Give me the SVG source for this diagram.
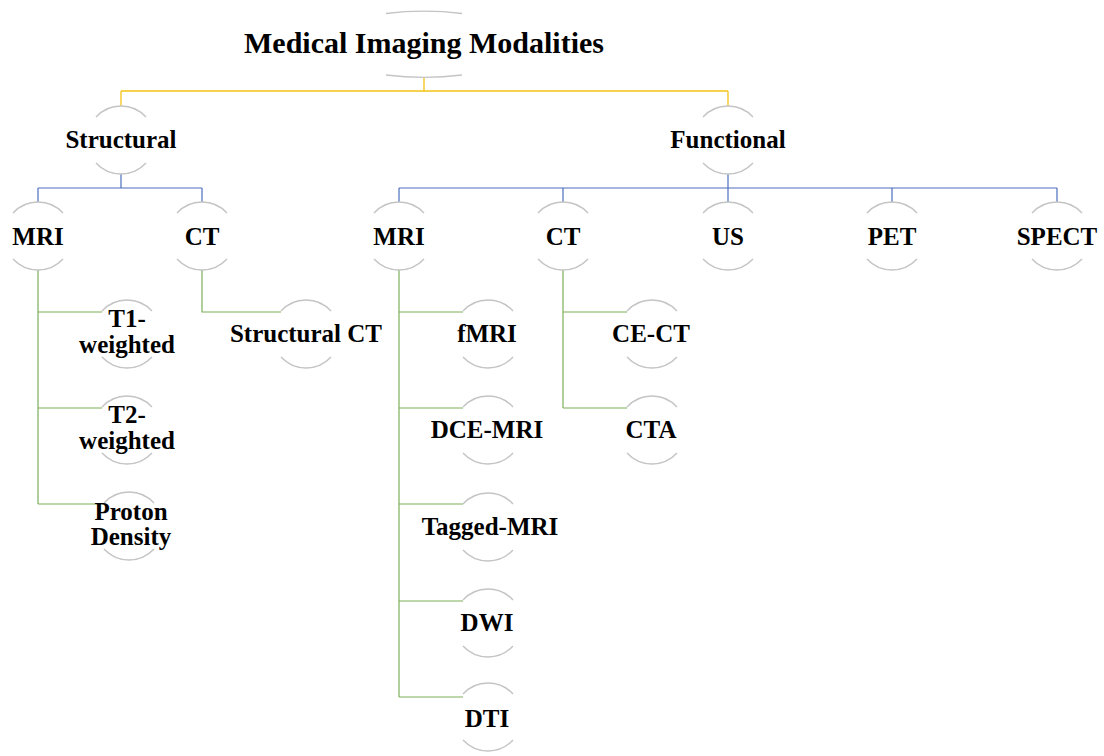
<svg xmlns="http://www.w3.org/2000/svg" xmlns:xlink="http://www.w3.org/1999/xlink" width="1104" height="756" viewBox="0 0 1104 756">
<style>
  .lbl { font-family: "Liberation Serif", "Times New Roman", serif; font-weight: bold; font-size: 25px; fill: #000; text-anchor: middle; }
  .title { font-size: 30px; }
  .ring { fill: none; stroke: #c4c4c4; stroke-width: 1.4; }
  .y { fill: none; stroke: #F5C316; stroke-width: 1.3; }
  .b { fill: none; stroke: #4A6FBF; stroke-width: 1.2; }
  .g { fill: none; stroke: #7DAF57; stroke-width: 1.2; }
</style>
<defs>
  <path id="ring" d="M-25,-23 A34,34 0 0 1 25,-23 M-25,23 A34,34 0 0 0 25,23"/>
</defs>
<rect width="1104" height="756" fill="#fff"/>

<g id="connectors">
  <path class="y" d="M424,77 V91 M121,91 H728 M121,91 V106 M728,91 V106"/>
  <path class="b" d="M121,174 V188 M38,188 H202 M38,188 V202 M202,188 V202"/>
  <path class="b" d="M728,174 V202 M399,188 H1057 M399,188 V202 M563,188 V202 M892,188 V202 M1057,188 V202"/>
  <path class="g" d="M38,270 V504 M38,312 H102 M38,408 H102 M38,504 H104"/>
  <path class="g" d="M202,270 V312 H281"/>
  <path class="g" d="M399,270 V697 M399,312 H463 M399,408 H463 M399,504 H463 M399,601 H463 M399,697 H463"/>
  <path class="g" d="M563,270 V408 M563,312 H627 M563,408 H627"/>
</g>

<g id="root">
  <path class="ring" d="M386,13.5 A100,30 0 0 1 462,13.5 M386,75 A100,30 0 0 0 462,75"/>
  <text class="lbl title" x="424" y="53">Medical Imaging Modalities</text>
</g>

<g id="structural">
  <use href="#ring" class="ring" x="121" y="140"/>
  <text class="lbl" x="121" y="148">Structural</text>
</g>
<g id="functional">
  <use href="#ring" class="ring" x="728" y="140"/>
  <text class="lbl" x="728" y="148">Functional</text>
</g>

<g id="s-mri">
  <use href="#ring" class="ring" x="38" y="236"/>
  <text class="lbl" x="38" y="245">MRI</text>
</g>
<g id="s-ct">
  <use href="#ring" class="ring" x="202" y="236"/>
  <text class="lbl" x="202" y="245">CT</text>
</g>
<g id="f-mri">
  <use href="#ring" class="ring" x="399" y="236"/>
  <text class="lbl" x="399" y="245">MRI</text>
</g>
<g id="f-ct">
  <use href="#ring" class="ring" x="563" y="236"/>
  <text class="lbl" x="563" y="245">CT</text>
</g>
<g id="f-us">
  <use href="#ring" class="ring" x="728" y="236"/>
  <text class="lbl" x="728" y="245">US</text>
</g>
<g id="f-pet">
  <use href="#ring" class="ring" x="892" y="236"/>
  <text class="lbl" x="892" y="245">PET</text>
</g>
<g id="f-spect">
  <use href="#ring" class="ring" x="1057" y="236"/>
  <text class="lbl" x="1057" y="245">SPECT</text>
</g>

<g id="t1">
  <use href="#ring" class="ring" x="127" y="334"/>
  <text class="lbl" x="127" y="327">T1-</text>
  <text class="lbl" x="127" y="353">weighted</text>
</g>
<g id="t2">
  <use href="#ring" class="ring" x="127" y="430"/>
  <text class="lbl" x="127" y="423">T2-</text>
  <text class="lbl" x="127" y="449">weighted</text>
</g>
<g id="pd">
  <use href="#ring" class="ring" x="129" y="526"/>
  <text class="lbl" x="131" y="520">Proton</text>
  <text class="lbl" x="131" y="545">Density</text>
</g>

<g id="s-ct-child">
  <use href="#ring" class="ring" x="306" y="334"/>
  <text class="lbl" x="306" y="342">Structural CT</text>
</g>

<g id="fmri">
  <use href="#ring" class="ring" x="488" y="334"/>
  <text class="lbl" x="487" y="342">fMRI</text>
</g>
<g id="dce">
  <use href="#ring" class="ring" x="488" y="430"/>
  <text class="lbl" x="487" y="438">DCE-MRI</text>
</g>
<g id="tagged">
  <use href="#ring" class="ring" x="488" y="527"/>
  <text class="lbl" x="490" y="535">Tagged-MRI</text>
</g>
<g id="dwi">
  <use href="#ring" class="ring" x="488" y="623"/>
  <text class="lbl" x="487" y="631">DWI</text>
</g>
<g id="dti">
  <use href="#ring" class="ring" x="488" y="717"/>
  <text class="lbl" x="487" y="727">DTI</text>
</g>

<g id="cect">
  <use href="#ring" class="ring" x="652" y="334"/>
  <text class="lbl" x="651" y="342">CE-CT</text>
</g>
<g id="cta">
  <use href="#ring" class="ring" x="652" y="430"/>
  <text class="lbl" x="651" y="438">CTA</text>
</g>
</svg>
